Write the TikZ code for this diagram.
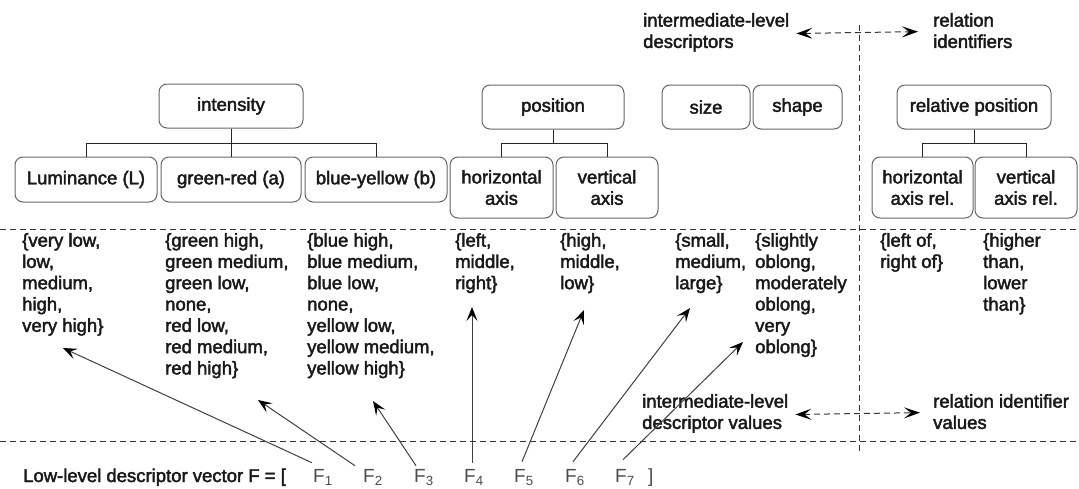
\documentclass[tikz,border=0pt]{standalone}
\usepackage{fontspec}
\setmainfont{Liberation Sans}
\newfontfamily\lblfont{Liberation Sans}[FakeBold=2.2]
\newfontfamily\ffont{Liberation Sans}
\usetikzlibrary{arrows.meta,calc}
\begin{document}
\begin{tikzpicture}[x=1pt,y=-1pt,
  lbl/.style={font=\lblfont\fontsize{18.5}{21.3}\selectfont, text=black!90},
  box/.style={lbl, draw=black!60, line width=1pt, rounded corners=8pt, fill=white, align=center, inner sep=2pt},
  txt/.style={lbl, align=left, inner sep=0pt, anchor=north west},
  flab/.style={font=\ffont\fontsize{19}{22}\selectfont, text=black!70, inner xsep=0pt, inner ysep=0pt, anchor=base west},
  tree/.style={draw=black!85, line width=1pt},
  sepline/.style={draw=black!80, line width=1pt, dash pattern=on 6pt off 4pt},
  ptr/.style={draw=black!75, line width=1pt, arrows={-Stealth[length=14pt,width=11pt,inset=6pt,black]}},
  darr/.style={sepline, arrows={Stealth[length=16pt,width=11pt,inset=7pt,black]-Stealth[length=16pt,width=11pt,inset=7pt,black]}}
]
\useasboundingbox (0,0) rectangle (1079,488);
\fill[white] (0,0) rectangle (1079,488);

% separators
\coordinate (l1a) at (0,229);   \coordinate (l1b) at (1079,229);
\coordinate (l2a) at (0,441);   \coordinate (l2b) at (1079,441);
\coordinate (vt) at (859,25);   \coordinate (vb) at (859,452);
\draw[sepline] (l1a) -- (l1b);
\draw[sepline] (l2a) -- (l2b);
\draw[sepline] (vt) -- (vb);

% top labels
\node[txt] (ild) at (643,13) {intermediate-level\\descriptors};
\node[txt] (ri) at (933,13) {relation\\identifiers};
\draw[darr] ([xshift=7pt,yshift=-1pt]ild.east) -- ([xshift=-15pt,yshift=-1pt]ri.west);

% intermediate-level descriptors
\node[box, minimum width=144pt, minimum height=44pt] (int) at (231,106) {intensity};
\node[box, minimum width=142pt, minimum height=45pt] (lum) at (86,179.5) {Luminance (L)};
\node[box, minimum width=140pt, minimum height=45pt] (gr)  at (231,179.5) {green-red (a)};
\node[box, minimum width=142pt, minimum height=45pt] (by)  at (376,179.5) {blue-yellow (b)};
\draw[tree] (int.south) -- ++(0,15) -| (lum.north);
\draw[tree] (int.south) -- (gr.north);
\draw[tree] (int.south) -- ++(0,15) -| (by.north);

\node[box, minimum width=142pt, minimum height=44pt] (pos) at (553,107) {position};
\node[box, minimum width=103pt, minimum height=61pt] (hax) at (501.5,187.5) {horizontal\\axis};
\node[box, minimum width=102pt, minimum height=61pt] (vax) at (607,187.5) {vertical\\axis};
\draw[tree] (pos.south) -- ++(0,14) -| (hax.north);
\draw[tree] (pos.south) -- ++(0,14) -| (vax.north);

\node[box, minimum width=88pt, minimum height=44pt] (size) at (706,107) {size};
\node[box, minimum width=89pt, minimum height=44pt] (shape) at (797.5,107) {shape};

\node[box, minimum width=154pt, minimum height=44pt] (rel) at (974,107) {relative position};
\node[box, minimum width=101pt, minimum height=61pt] (hrel) at (922.5,187.5) {horizontal\\axis rel.};
\node[box, minimum width=102pt, minimum height=61pt] (vrel) at (1026,187.5) {vertical\\axis rel.};
\draw[tree] (rel.south) -- ++(0,14) -| (hrel.north);
\draw[tree] (rel.south) -- ++(0,14) -| (vrel.north);

% value lists
\node[txt] (v1) at (22,233)  {\{very low,\\low,\\medium,\\high,\\very high\}};
\node[txt] (v2) at (165,233) {\{green high,\\green medium,\\green low,\\none,\\red low,\\red medium,\\red high\}};
\node[txt] (v3) at (307,233) {\{blue high,\\blue medium,\\blue low,\\none,\\yellow low,\\yellow medium,\\yellow high\}};
\node[txt] (v4) at (455,233) {\{left,\\middle,\\right\}};
\node[txt] (v5) at (560,233) {\{high,\\middle,\\low\}};
\node[txt] (v6) at (675,233) {\{small,\\medium,\\large\}};
\node[txt] (v7) at (755,233) {\{slightly\\oblong,\\moderately\\oblong,\\very\\oblong\}};
\node[txt] (v8) at (880,233) {\{left of,\\right of\}};
\node[txt] (v9) at (983,233) {\{higher\\than,\\lower\\than\}};

% lower labels
\node[txt] (idv) at (642,394) {intermediate-level\\descriptor values};
\node[txt] (riv) at (933,394) {relation identifier\\values};
\draw[darr] ([xshift=7pt,yshift=-1pt]idv.east) -- ([xshift=-13pt,yshift=-1pt]riv.west);

% low-level vector
\node[lbl, anchor=base west, inner sep=0pt] (llv) at (23,482) {Low-level descriptor vector F = [};
\node[flab] (F1) at (313,482) {F\textsubscript{1}};
\node[flab] (F2) at (363,482) {F\textsubscript{2}};
\node[flab] (F3) at (414,482) {F\textsubscript{3}};
\node[flab] (F4) at (464,482) {F\textsubscript{4}};
\node[flab] (F5) at (514,482) {F\textsubscript{5}};
\node[flab] (F6) at (565,482) {F\textsubscript{6}};
\node[flab] (F7) at (615,482) {F\textsubscript{7}};
\node[flab] (Fend) at (648,482) {]};

% arrow targets
\coordinate (h1) at (63,348);
\coordinate (h2) at (258,400);
\coordinate (h3) at (373,401);
\coordinate (h4) at (472,307);
\coordinate (h5) at (584,310);
\coordinate (h6) at (690,308);
\coordinate (h7) at (743,342);

\draw[ptr] ([xshift=-1pt,yshift=6pt]F1.north west) -- (h1);
\draw[ptr] ([xshift=-8pt,yshift=3pt]F2.north west) -- (h2);
\draw[ptr] ([xshift=2pt,yshift=3pt]F3.north west) -- (h3);
\draw[ptr] ([xshift=8pt,yshift=6pt]F4.north west) -- (h4);
\draw[ptr] ([xshift=8pt,yshift=7pt]F5.north west) -- (h5);
\draw[ptr] ([xshift=8pt,yshift=7pt]F6.north west) -- (h6);
\draw[ptr] ([xshift=8pt,yshift=9pt]F7.north west) -- (h7);
\end{tikzpicture}
\end{document}
